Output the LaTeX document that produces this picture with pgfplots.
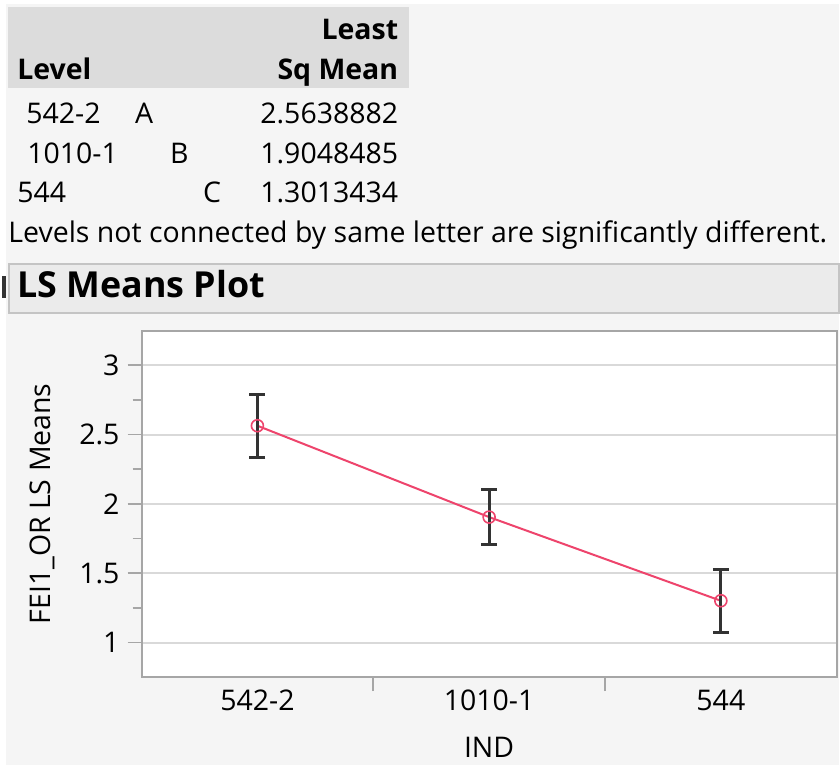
\documentclass[border=0pt]{standalone}
\usepackage{pgfplots}
\pgfplotsset{compat=1.18}
\usepackage{fontspec}
\setmainfont{Open Sans}

\definecolor{panelbg}{HTML}{F5F5F5}
\definecolor{headbg}{HTML}{DCDCDC}
\definecolor{barbg}{HTML}{EBEBEB}
\definecolor{barline}{HTML}{C4C4C4}
\definecolor{framegray}{HTML}{A6A6A6}
\definecolor{gridgray}{HTML}{D9D9D9}
\definecolor{meanline}{RGB}{238,68,108}
\definecolor{errbar}{HTML}{333333}

\newcommand{\bodyfont}{\fontsize{14.3}{17}\selectfont}

\begin{document}
\begin{tikzpicture}[x=0.5bp,y=-0.5bp]
  % report background
  \fill[white] (0,0) rectangle (840,766);
  \fill[panelbg] (6,4) rectangle (840,766);

  % LS means table
  \fill[headbg] (8,7) rectangle (409,88);
  \node[anchor=base east,inner sep=0pt,font=\bodyfont\bfseries] at (399,40) {Least};
  \node[anchor=base west,inner sep=0pt,font=\bodyfont\bfseries] at (17,80) {Level};
  \node[anchor=base east,inner sep=0pt,font=\bodyfont\bfseries] at (399,80) {Sq Mean};

  \node[anchor=base west,inner sep=0pt,font=\bodyfont] at (26,124) {542-2};
  \node[anchor=base west,inner sep=0pt,font=\bodyfont] at (135,124) {A};
  \node[anchor=base east,inner sep=0pt,font=\bodyfont] at (399,124) {2.5638882};

  \node[anchor=base west,inner sep=0pt,font=\bodyfont] at (27,164) {1010-1};
  \node[anchor=base west,inner sep=0pt,font=\bodyfont] at (170,164) {B};
  \node[anchor=base east,inner sep=0pt,font=\bodyfont] at (399,164) {1.9048485};

  \node[anchor=base west,inner sep=0pt,font=\bodyfont] at (17,203) {544};
  \node[anchor=base west,inner sep=0pt,font=\bodyfont] at (203,203) {C};
  \node[anchor=base east,inner sep=0pt,font=\bodyfont] at (399,203) {1.3013434};

  \node[anchor=base west,inner sep=0pt,font=\bodyfont] at (8,243)
    {Levels not connected by same letter are significantly different.};

  % outline section header
  \fill[black!80] (2,276) rectangle (6,298);
  \draw[barline,fill=barbg,line width=1bp] (9,264) rectangle (840,313);
  \node[anchor=base west,inner sep=0pt,font=\fontsize{18}{20}\selectfont\bfseries] at (17,298) {LS Means Plot};

  \coordinate (plotSW) at (141.7,678);
  \begin{axis}[
    at={(plotSW)}, anchor=south west,
    scale only axis, width=348bp, height=173.5bp,
    axis background/.style={fill=white},
    axis line style={framegray,line width=1bp},
    xmin=-0.5, xmax=2.5, ymin=0.75, ymax=3.25,
    xtick={0.5,1.5}, xticklabels={},
    extra x ticks={0,1,2},
    extra x tick labels={542-2,1010-1,544},
    extra x tick style={major tick length=0pt, xticklabel style={yshift=-3bp}},
    ytick={1,1.5,2,2.5,3},
    minor y tick num=1,
    xtick pos=bottom, ytick pos=left,
    tick align=outside,
    major tick length=7bp, minor tick length=4.5bp,
    tick style={framegray,line width=0.8bp},
    ymajorgrids, grid style={gridgray,line width=1bp},
    /pgf/number format/assume math mode=true,
    ticklabel style={font=\bodyfont},
    yticklabel style={xshift=-0.5bp, /pgf/number format/.cd, fixed, precision=1},
    ylabel={FEI1\_OR LS Means},
    ylabel style={font=\bodyfont, at={(axis description cs:-0.143,0.5)}, anchor=center},
    xlabel={IND},
    xlabel style={font=\bodyfont, at={(axis description cs:0.5,-0.2305)}, anchor=base},
    clip=false,
  ]
    \addplot[
      meanline, line width=1bp,
      mark=o, mark size=3bp, mark options={line width=0.8bp},
      error bars/.cd, y dir=both, y explicit,
      error bar style={errbar, line width=1.5bp},
      error mark options={errbar, rotate=90, mark size=4bp, line width=1.5bp},
    ] table[x=idx, y=mean, y error=err] {
      idx mean      err
      0   2.5638882 0.226
      1   1.9048485 0.198
      2   1.3013434 0.227
    };
  \end{axis}
\end{tikzpicture}
\end{document}
